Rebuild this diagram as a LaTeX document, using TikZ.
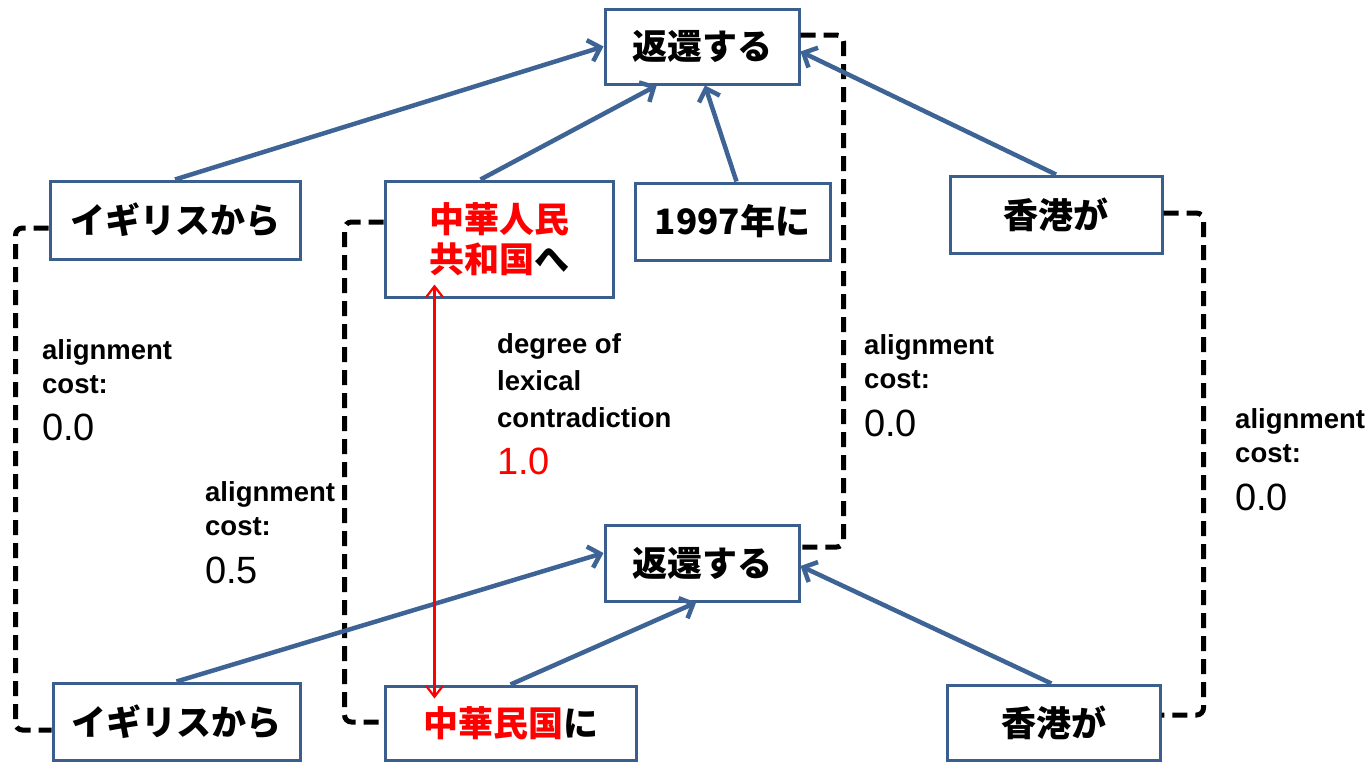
\documentclass[tikz,border=0pt]{standalone}
\usepackage{fontspec}
\setmainfont{Liberation Sans}
\newfontfamily\jp{Noto Sans CJK JP}
\usetikzlibrary{arrows.meta,calc}
\definecolor{boxblue}{RGB}{58,95,142}
\definecolor{arrblue}{RGB}{62,100,150}
\tikzset{
  wbox/.style 2 args={draw=boxblue,line width=3pt,fill=white,minimum width=#1,minimum height=#2,inner sep=0pt,align=left,font=\jp\bfseries\fontsize{35}{40}\selectfont},
  dashconn/.style={draw=black,line width=5pt,dash pattern=on 15pt off 8pt,rounded corners=7pt},
  barrow/.style={draw=arrblue,line width=4.5pt,-{Straight Barb[length=11pt,width=22pt,line width=4.5pt]}},
  redarr/.style={draw=red,line width=2.2pt,{Straight Barb[length=11pt,width=17pt,line width=2.2pt]}-{Straight Barb[length=11pt,width=17pt,line width=2.2pt]}},
  lab/.style={anchor=base west,inner sep=0pt,font=\bfseries\fontsize{27.5}{30}\selectfont},
  num/.style={anchor=base west,inner sep=0pt,font=\fontsize{38}{40}\selectfont}
}
\begin{document}
\begin{tikzpicture}[x=1pt,y=-1pt]
\useasboundingbox[fill=white] (0,0) rectangle (1372,764);

% boxes
\node[wbox={194pt}{75pt}] (T1) at (702,46.5) {返還する};
\node[wbox={194pt}{76pt}] (B1) at (702,563) {返還する};
\node[wbox={250pt}{78pt}] (TE) at (175,220) {イギリスから};
\node[wbox={228pt}{116pt}] (TC) at (499,239) {{\color{red}中華人民}\\{\color{red}共和国}へ};
\node[wbox={195pt}{77pt}] (T97) at (732.5,221.5) {1997年に};
\node[wbox={212pt}{77pt}] (TH) at (1056,214.5) {香港が};
\node[wbox={247pt}{77pt}] (BE) at (176.5,721.5) {イギリスから};
\node[wbox={251pt}{74pt}] (BC) at (510.5,723) {{\color{red}中華民国}に};
\node[wbox={213pt}{75pt}] (BH) at (1053.5,722.5) {香港が};

% dashed alignment connectors
\draw[dashconn] ($(TE.west)+(0,8)$) -- ++(-33,0) |- ($(BE.west)+(0,8.5)$);
\draw[dashconn] ($(TC.west)+(0,-17)$) -- ++(-39,0) |- ($(BC.west)+(0,-1)$);
\draw[dashconn] ($(T1.east)+(0,-11.5)$) -- ++(43,0) |- ($(B1.east)+(0,-16)$);
\draw[dashconn] ($(TH.east)+(0,-1.5)$) -- ++(40,0) |- ($(BH.east)+(0,-7.5)$);

% dependency arrows
\draw[barrow] (TE.north) -- (T1.west);
\draw[barrow] ($(TC.north west)!0.42!(TC.north east)$) -- ($(T1.south west)!0.27!(T1.south east)$);
\draw[barrow] ($(T97.north west)!0.52!(T97.north east)$) -- ($(T1.south west)!0.515!(T1.south east)$);
\draw[barrow] (TH.north) -- ($(T1.east)+(0,5)$);
\draw[barrow] (BE.north) -- ($(B1.west)+(0,-10)$);
\draw[barrow] (BC.north) -- ($(B1.south west)!0.47!(B1.south east)$);
\draw[barrow] ($(BH.north west)!0.49!(BH.north east)$) -- ($(B1.east)+(0,3)$);

% contradiction arrow
\draw[redarr] ($(TC.south west)+(51,-14)$) -- ($(BC.north west)+(51,14)$);

% labels
\node[lab] (l1a) at (42,359) {alignment};
\node[lab] (l1b) at (42,393) {cost:};
\node[num] (l1c) at (42,440) {0.0};

\node[lab] (l2a) at (205,501) {alignment};
\node[lab] (l2b) at (205,535) {cost:};
\node[num] (l2c) at (205,583) {0.5};

\node[lab] (l3a) at (497,353) {degree of};
\node[lab] (l3b) at (497,390) {lexical};
\node[lab] (l3c) at (497,427) {contradiction};
\node[num,text=red] (l3d) at (497,474) {1.0};

\node[lab] (l4a) at (864,354) {alignment};
\node[lab] (l4b) at (864,388) {cost:};
\node[num] (l4c) at (864,436) {0.0};

\node[lab] (l5a) at (1235,428) {alignment};
\node[lab] (l5b) at (1235,462) {cost:};
\node[num] (l5c) at (1235,510) {0.0};
\end{tikzpicture}
\end{document}
